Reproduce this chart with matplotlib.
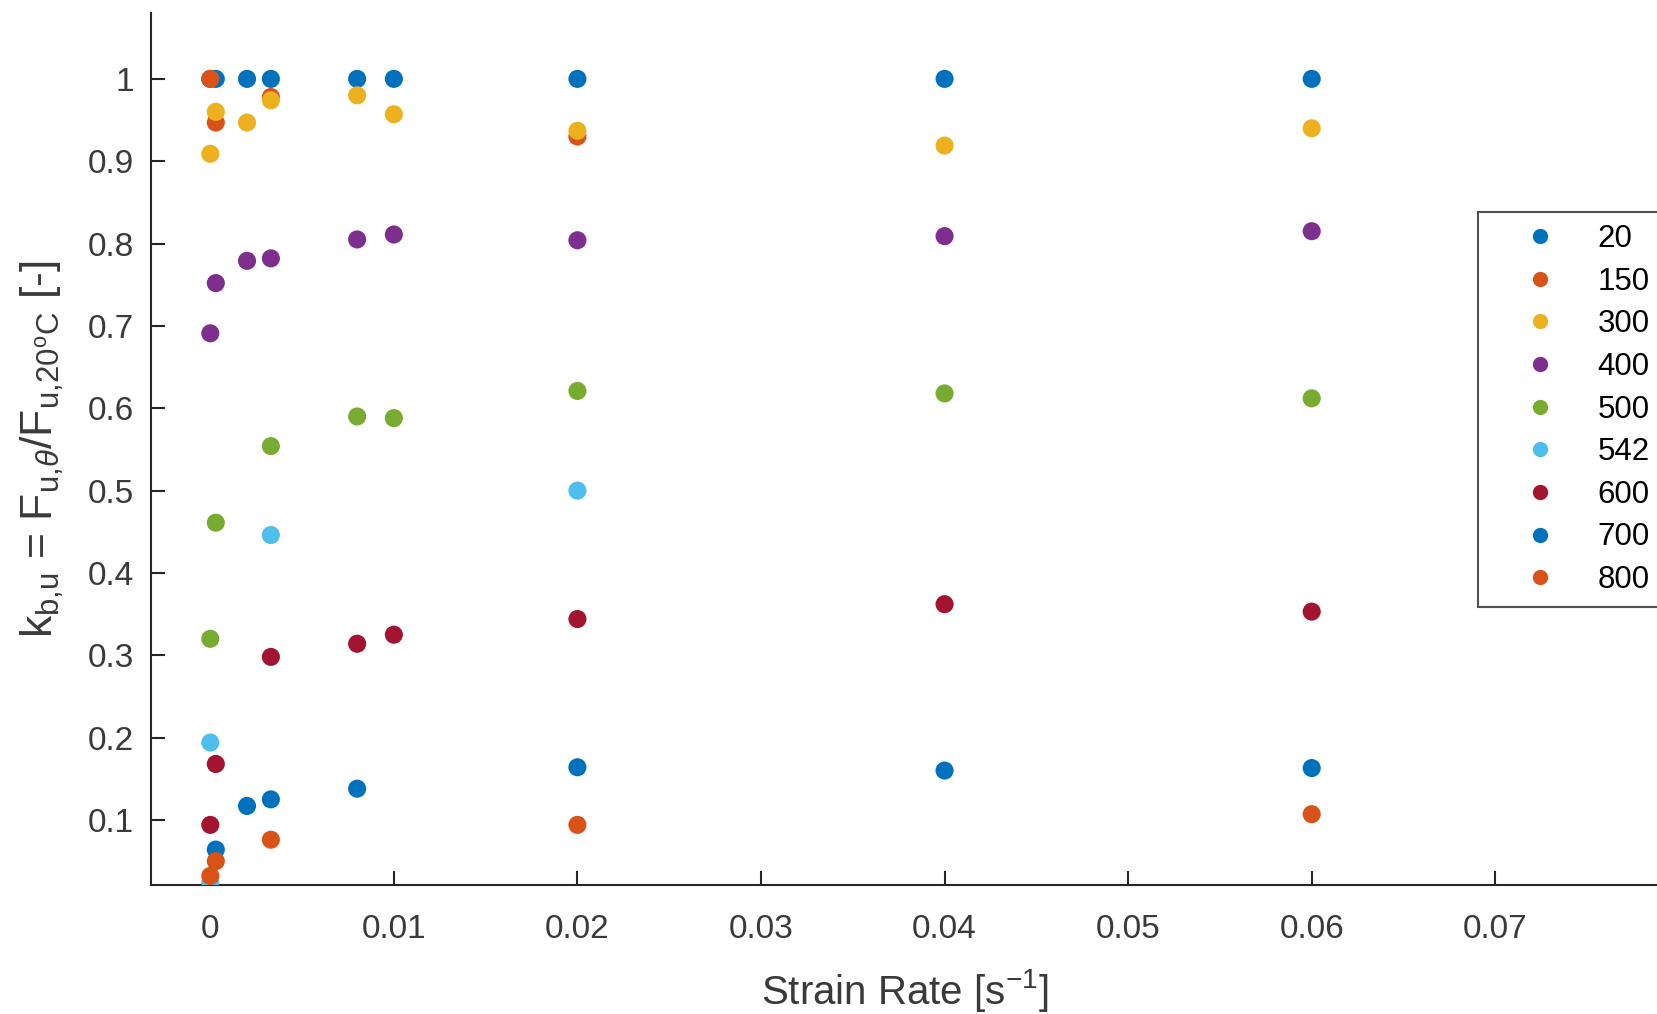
import matplotlib
matplotlib.use("Agg")
import matplotlib.pyplot as plt
from matplotlib.lines import Line2D

plt.rcParams['font.family'] = ['Liberation Sans', 'DejaVu Sans']
plt.rcParams['mathtext.fontset'] = 'custom'
plt.rcParams['mathtext.rm'] = 'Liberation Sans'
plt.rcParams['mathtext.it'] = 'Liberation Sans:italic'

# ---- data ----
temperatures = ['20', '150', '300', '400', '500', '542', '600', '700', '800']
colors = ['#0072BD', '#D95319', '#EDB120', '#7E2F8E', '#77AC30',
          '#4DBEEE', '#A2142F', '#0072BD', '#D95319']

x_20 = [0.0, 0.0003, 0.002, 0.0033, 0.008, 0.01, 0.02, 0.04, 0.06]
y_20 = [1.0, 1.0, 1.0, 1.0, 1.0, 1.0, 1.0, 1.0, 1.0]

x_150 = [0.0, 0.0003, 0.0033, 0.02]
y_150 = [1.0, 0.947, 0.978, 0.930]

x_300 = [0.0, 0.0003, 0.002, 0.0033, 0.008, 0.01, 0.02, 0.04, 0.06]
y_300 = [0.909, 0.960, 0.947, 0.974, 0.980, 0.957, 0.937, 0.919, 0.940]

x_400 = [0.0, 0.0003, 0.002, 0.0033, 0.008, 0.01, 0.02, 0.04, 0.06]
y_400 = [0.691, 0.752, 0.779, 0.782, 0.805, 0.811, 0.804, 0.809, 0.815]

x_500 = [0.0, 0.0003, 0.0033, 0.008, 0.01, 0.02, 0.04, 0.06]
y_500 = [0.320, 0.461, 0.554, 0.590, 0.588, 0.621, 0.618, 0.612]

x_542 = [0.0, 0.0, 0.0033, 0.02]
y_542 = [0.024, 0.194, 0.446, 0.500]

x_600 = [0.0, 0.0003, 0.0033, 0.008, 0.01, 0.02, 0.04, 0.06]
y_600 = [0.094, 0.168, 0.298, 0.314, 0.325, 0.344, 0.362, 0.353]

x_700 = [0.0003, 0.002, 0.0033, 0.008, 0.02, 0.04, 0.06]
y_700 = [0.064, 0.117, 0.125, 0.138, 0.164, 0.160, 0.163]

x_800 = [0.0, 0.0003, 0.0033, 0.02, 0.06]
y_800 = [0.032, 0.050, 0.076, 0.094, 0.107]

xs = [x_20, x_150, x_300, x_400, x_500, x_542, x_600, x_700, x_800]
ys = [y_20, y_150, y_300, y_400, y_500, y_542, y_600, y_700, y_800]

x_ticks = [0, 0.01, 0.02, 0.03, 0.04, 0.05, 0.06, 0.07]
x_ticklabels = ['0', '0.01', '0.02', '0.03', '0.04', '0.05', '0.06', '0.07']
y_ticks = [0.1, 0.2, 0.3, 0.4, 0.5, 0.6, 0.7, 0.8, 0.9, 1.0]
y_ticklabels = ['0.1', '0.2', '0.3', '0.4', '0.5', '0.6', '0.7', '0.8', '0.9', '1']

# ---- figure ----
W, H = 1657, 1014
fig = plt.figure(figsize=(W / 100, H / 100), dpi=100)
ax = fig.add_axes([151 / W, 1 - 885 / H, 1 - 151 / W + 0.001, (885 - 13) / H])

txt = '#3a3a3a'
for xv, yv, c, lab in zip(xs, ys, colors, temperatures):
    ax.scatter(xv, yv, s=170, color=c, edgecolors='none', label=lab, zorder=3)

ax.set_xlim(-0.00323, 0.0789)
ax.set_ylim(0.021, 1.08)
ax.set_xticks(x_ticks)
ax.set_xticklabels(x_ticklabels)
ax.set_yticks(y_ticks)
ax.set_yticklabels(y_ticklabels)

for s in ['top', 'right']:
    ax.spines[s].set_visible(False)
for s in ['left', 'bottom']:
    ax.spines[s].set_color('#262626')
    ax.spines[s].set_linewidth(1.5)

ax.tick_params(direction='in', length=10, width=1.5, color='#262626',
               labelsize=24, labelcolor=txt)
ax.tick_params(axis='x', pad=21)
ax.tick_params(axis='y', pad=12)

ax.set_xlabel(r'Strain Rate [s$^{\mathregular{-1}}$]', fontsize=29, color=txt, labelpad=16)
ax.set_ylabel(r'k$_{\mathregular{b{,}u}}$ = F$_{\mathregular{u{,}}\theta}$/F$_{\mathregular{u{,}20^{o}C}}$ [-]',
              fontsize=32, color=txt, labelpad=16)

handles = [Line2D([], [], marker='o', linestyle='none', markersize=11,
                  markerfacecolor=c, markeredgecolor='none') for c in colors]
leg = ax.legend(handles, temperatures, loc='upper left',
                bbox_to_anchor=(1478 / W, 1 - 212 / H), bbox_transform=fig.transFigure,
                fontsize=22.5, frameon=True, fancybox=False, borderpad=0.38,
                handlelength=3.2, handletextpad=0.25, labelspacing=0.405,
                borderaxespad=0)
leg.get_frame().set_edgecolor('#262626')
leg.get_frame().set_linewidth(1.5)
for t in leg.get_texts():
    t.set_color('#000000')

fig.savefig('out.png', dpi=100)
